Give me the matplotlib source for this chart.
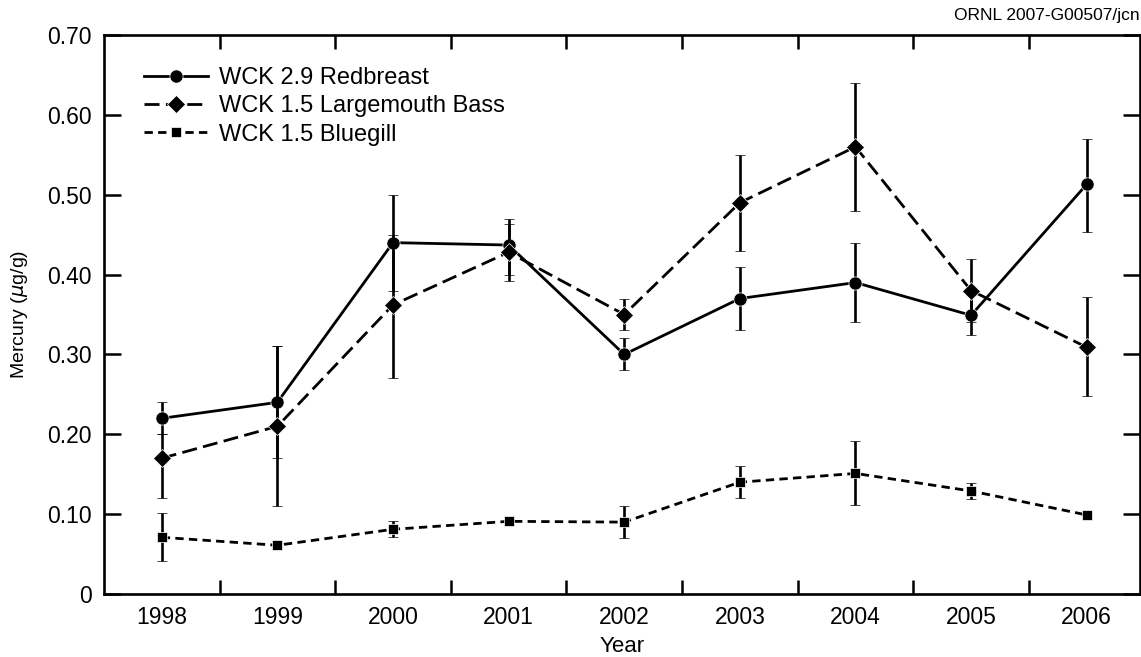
import matplotlib.pyplot as plt
from matplotlib.ticker import FixedLocator, FuncFormatter

plt.rcParams['font.family'] = ['Liberation Sans', 'DejaVu Sans']

years = ['1998', '1999', '2000', '2001', '2002', '2003', '2004', '2005', '2006']
series_names = ['WCK 2.9 Redbreast', 'WCK 1.5 Largemouth Bass', 'WCK 1.5 Bluegill']

# WCK 2.9 Redbreast
redbreast = [0.22, 0.24, 0.44, 0.437, 0.30, 0.37, 0.39, 0.349, 0.513]
redbreast_lo = [0.02, 0.07, 0.06, 0.037, 0.02, 0.04, 0.05, 0.025, 0.06]
redbreast_hi = [0.02, 0.07, 0.06, 0.026, 0.02, 0.04, 0.05, 0.025, 0.057]

# WCK 1.5 Largemouth Bass
bass = [0.17, 0.21, 0.362, 0.428, 0.35, 0.49, 0.56, 0.38, 0.309]
bass_lo = [0.05, 0.10, 0.092, 0.036, 0.02, 0.06, 0.08, 0.04, 0.061]
bass_hi = [0.03, 0.10, 0.088, 0.041, 0.02, 0.06, 0.08, 0.04, 0.063]

# WCK 1.5 Bluegill
bluegill = [0.071, 0.061, 0.081, 0.091, 0.09, 0.14, 0.151, 0.129, 0.099]
bluegill_lo = [0.03, 0.005, 0.01, 0.0, 0.02, 0.02, 0.04, 0.01, 0.0]
bluegill_hi = [0.03, 0.005, 0.01, 0.0, 0.02, 0.02, 0.04, 0.01, 0.0]

x = list(range(len(years)))

fig = plt.figure(figsize=(11.41, 6.57), dpi=100)
ax = fig.add_axes([0.0911, 0.0959, 0.9079, 0.8508])

common = dict(color='black', ecolor='black', elinewidth=1.9, capsize=3.8, capthick=1.9,
              markeredgecolor='white', markeredgewidth=0.5, lw=2.0)

c1 = ax.errorbar(x, redbreast, yerr=[redbreast_lo, redbreast_hi], fmt='-o',
                 markersize=9.5, zorder=3, **common)
c2 = ax.errorbar(x, bass, yerr=[bass_lo, bass_hi], fmt='-D', dashes=(5.4, 2.3),
                 markersize=9.5, zorder=4, **common)
c3 = ax.errorbar(x, bluegill, yerr=[bluegill_lo, bluegill_hi], fmt='-s', dashes=(3.0, 1.9),
                 markersize=7.8, zorder=5, **common)

ax.set_xlim(-0.5, 8.46)
ax.set_ylim(0, 0.70)

ax.set_xticks(x)
ax.set_xticklabels(years)
ax.xaxis.set_minor_locator(FixedLocator([i + 0.5 for i in range(8)]))
ax.tick_params(axis='x', which='major', length=0, pad=9, labelsize=16.5)
ax.tick_params(axis='x', which='minor', direction='in', length=10, width=1.8, top=True, bottom=True)

ax.set_yticks([i / 10 for i in range(8)])
ax.yaxis.set_major_formatter(FuncFormatter(lambda v, p: '0' if v == 0 else '%.2f' % v))
ax.tick_params(axis='y', direction='in', length=12, width=1.8, left=True, right=True,
               labelsize=16.5, pad=9)

for s in ax.spines.values():
    s.set_linewidth(1.9)

ax.set_xlabel('Year', fontsize=16)
ax.xaxis.set_label_coords(0.5, -0.075)
ax.set_ylabel('Mercury ($\\mu$g/g)', fontsize=14)
ax.yaxis.set_label_coords(-0.071, 0.5)

ax.legend([c1[0], c2[0], c3[0]], series_names, loc='upper left', bbox_to_anchor=(0.03, 0.96),
          frameon=False, fontsize=17, handlelength=2.7, handletextpad=0.45,
          labelspacing=0.27, borderaxespad=0)

fig.text(0.999, 0.977, 'ORNL 2007-G00507/jcn', ha='right', va='center', fontsize=12.5)

fig.savefig('out.png', dpi=100)
